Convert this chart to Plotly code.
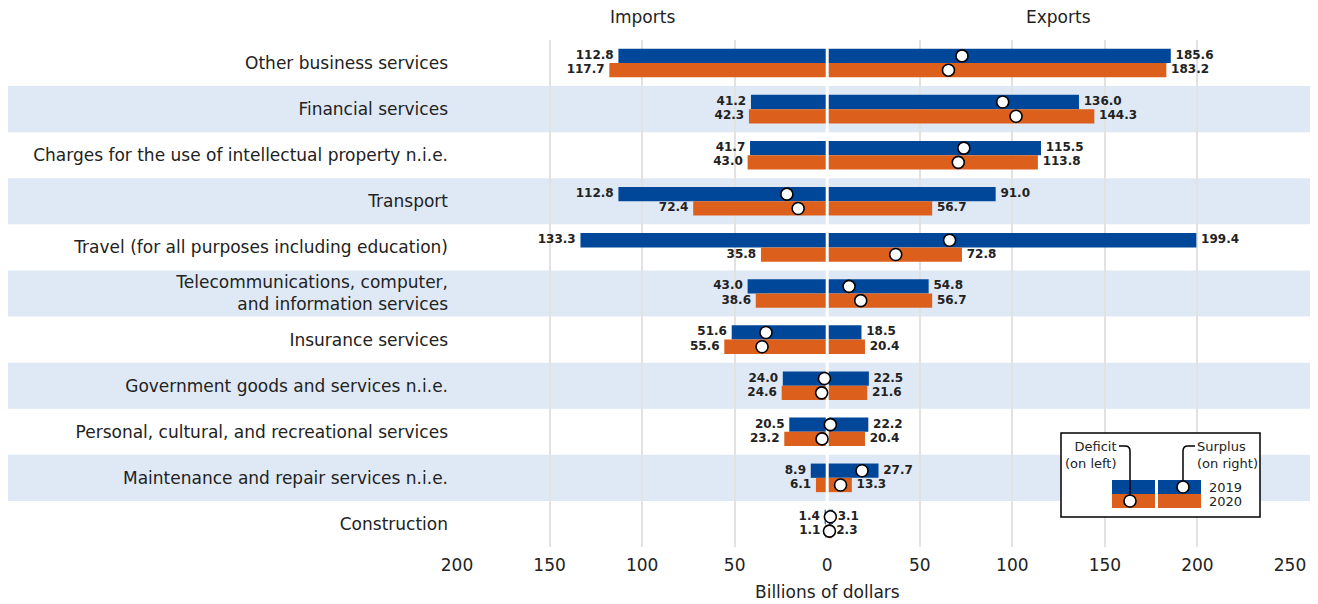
import plotly.graph_objects as go

categories = [
    "Other business services",
    "Financial services",
    "Charges for the use of intellectual property n.i.e.",
    "Transport",
    "Travel (for all purposes including education)",
    "Telecommunications, computer,<br>and information services",
    "Insurance services",
    "Government goods and services n.i.e.",
    "Personal, cultural, and recreational services",
    "Maintenance and repair services n.i.e.",
    "Construction",
]
imports_2019 = [112.8, 41.2, 41.7, 112.8, 133.3, 43.0, 51.6, 24.0, 20.5, 8.9, 1.4]
imports_2020 = [117.7, 42.3, 43.0, 72.4, 35.8, 38.6, 55.6, 24.6, 23.2, 6.1, 1.1]
exports_2019 = [185.6, 136.0, 115.5, 91.0, 199.4, 54.8, 18.5, 22.5, 22.2, 27.7, 3.1]
exports_2020 = [183.2, 144.3, 113.8, 56.7, 72.8, 56.7, 20.4, 21.6, 20.4, 13.3, 2.3]
tick_vals = [-200, -150, -100, -50, 0, 50, 100, 150, 200, 250]

BLUE = "#00479a"
ORANGE = "#dc601c"
BAND = "#dfe9f6"
TXT = "#222222"
FONT = "DejaVu Sans"

# page body has an 8px margin, so the figure is drawn 8px right/down
OFF = 8
W, H = 1318 - OFF, 604 - OFF
# plot area in screenshot pixels (for decorations)
L, R, T, B = 457, 1290, 40, 547
def px(x):
    return (x - L) / (R - L)
def py(y):
    return (B - y) / (B - T)

idx = list(range(len(categories)))
y19 = [i - 0.155 for i in idx]
y20 = [i + 0.155 for i in idx]
bal19 = [e - i for e, i in zip(exports_2019, imports_2019)]
bal20 = [e - i for e, i in zip(exports_2020, imports_2020)]

fig = go.Figure()

def add_bars(vals, ys, color, sign):
    fig.add_trace(go.Bar(
        x=[sign * v for v in vals], y=ys, orientation="h", width=0.31,
        marker=dict(color=color, line=dict(width=0)),
        showlegend=False, hoverinfo="skip",
    ))
    # value labels just beyond the bar end
    fig.add_trace(go.Scatter(
        x=[sign * v for v in vals], y=ys, mode="markers+text",
        marker=dict(size=6, color="rgba(0,0,0,0)"),
        text=[f"{v:.1f}" for v in vals],
        textposition="middle left" if sign < 0 else "middle right",
        textfont=dict(size=12, color=TXT, family=FONT, weight="bold"),
        cliponaxis=False, showlegend=False, hoverinfo="skip",
    ))

add_bars(imports_2019, y19, BLUE, -1)
add_bars(exports_2019, y19, BLUE, 1)
add_bars(imports_2020, y20, ORANGE, -1)
add_bars(exports_2020, y20, ORANGE, 1)

# white gap between import and export bars (under the balance circles)
fig.add_trace(go.Scatter(
    x=[0, 0], y=[-0.5, len(categories) - 0.5], mode="lines",
    line=dict(color="white", width=3), showlegend=False, hoverinfo="skip",
))

fig.add_trace(go.Scatter(
    x=bal19 + bal20, y=y19 + y20, mode="markers",
    marker=dict(size=12, color="white", line=dict(color="black", width=1.6)),
    showlegend=False, cliponaxis=False,
))

shapes = []
rowh = (B - T) / len(categories)
for i in idx:
    if i % 2 == 1:
        shapes.append(dict(type="rect", xref="paper", yref="paper", layer="below",
                           x0=px(0), x1=px(1310), y0=py(T + (i + 1) * rowh), y1=py(T + i * rowh),
                           fillcolor=BAND, line=dict(width=0)))

# legend box
shapes.append(dict(type="rect", xref="paper", yref="paper", x0=px(1061), x1=px(1260),
                   y0=py(517), y1=py(433), fillcolor="white", line=dict(color="black", width=1.5)))
for (x0, y0, x1, y1, c) in [(1112, 480, 1155, 494, BLUE), (1158, 480, 1201, 494, BLUE),
                            (1112, 494, 1155, 508, ORANGE), (1158, 494, 1201, 508, ORANGE)]:
    shapes.append(dict(type="rect", xref="paper", yref="paper", x0=px(x0), x1=px(x1),
                       y0=py(y1), y1=py(y0), fillcolor=c, line=dict(width=0)))

def path(points):
    s = ""
    for cmd, pts in points:
        s += cmd + " " + " ".join(f"{px(a):.5f},{py(b):.5f}" for a, b in pts) + " "
    return s

shapes.append(dict(type="path", xref="paper", yref="paper",
                   path=path([("M", [(1119, 446)]), ("L", [(1125, 446)]),
                              ("Q", [(1130, 446), (1130, 451)]), ("L", [(1130, 497)])]),
                   line=dict(color="black", width=1.5)))
shapes.append(dict(type="path", xref="paper", yref="paper",
                   path=path([("M", [(1195, 446)]), ("L", [(1188, 446)]),
                              ("Q", [(1183, 446), (1183, 451)]), ("L", [(1183, 483)])]),
                   line=dict(color="black", width=1.5)))
for (cx, cy) in [(1130, 501), (1183, 487)]:
    shapes.append(dict(type="circle", xref="paper", yref="paper", xsizemode="pixel", ysizemode="pixel",
                       xanchor=px(cx), yanchor=py(cy), x0=-6, x1=6, y0=-6, y1=6,
                       fillcolor="white", line=dict(color="black", width=1.6)))

legend_font = dict(size=13, color=TXT, family=FONT)
annotations = [
    dict(text="Imports", x=-100, y=py(17), xref="x", yref="paper", yanchor="middle",
         showarrow=False, font=dict(size=17, color=TXT)),
    dict(text="Exports", x=125, y=py(17), xref="x", yref="paper", yanchor="middle",
         showarrow=False, font=dict(size=17, color=TXT)),
    dict(text="Billions of dollars", x=0, y=py(592), xref="x", yref="paper", yanchor="middle",
         showarrow=False, font=dict(size=17, color=TXT)),
    dict(text="Deficit<br>(on left)", x=px(1119), y=py(455), xref="paper", yref="paper",
         xanchor="right", yanchor="middle", align="right", showarrow=False, font=legend_font),
    dict(text="Surplus<br>(on right)", x=px(1195), y=py(455), xref="paper", yref="paper",
         xanchor="left", yanchor="middle", align="left", showarrow=False, font=legend_font),
    dict(text="2019", x=px(1207), y=py(487), xref="paper", yref="paper", xanchor="left",
         yanchor="middle", showarrow=False, font=legend_font),
    dict(text="2020", x=px(1207), y=py(501), xref="paper", yref="paper", xanchor="left",
         yanchor="middle", showarrow=False, font=legend_font),
]

fig.update_layout(
    width=W, height=H,
    margin=dict(l=L - OFF, r=1318 - R, t=T - OFF, b=604 - B),
    paper_bgcolor="white", plot_bgcolor="rgba(0,0,0,0)",
    barmode="overlay",
    font=dict(family=FONT, color=TXT),
    shapes=shapes, annotations=annotations,
    xaxis=dict(range=[-200, 250], tickvals=tick_vals, ticktext=[str(abs(v)) for v in tick_vals],
               showgrid=True, gridcolor="#e2e2e2", gridwidth=2, zeroline=False,
               tickfont=dict(size=17, color=TXT), ticklabelstandoff=6, fixedrange=True),
    yaxis=dict(range=[len(categories) - 0.5, -0.5], tickvals=idx, ticktext=categories,
               showgrid=False, zeroline=False, tickfont=dict(size=17, color=TXT),
               ticklabelstandoff=8, fixedrange=True),
)

fig.write_html("out.html")
